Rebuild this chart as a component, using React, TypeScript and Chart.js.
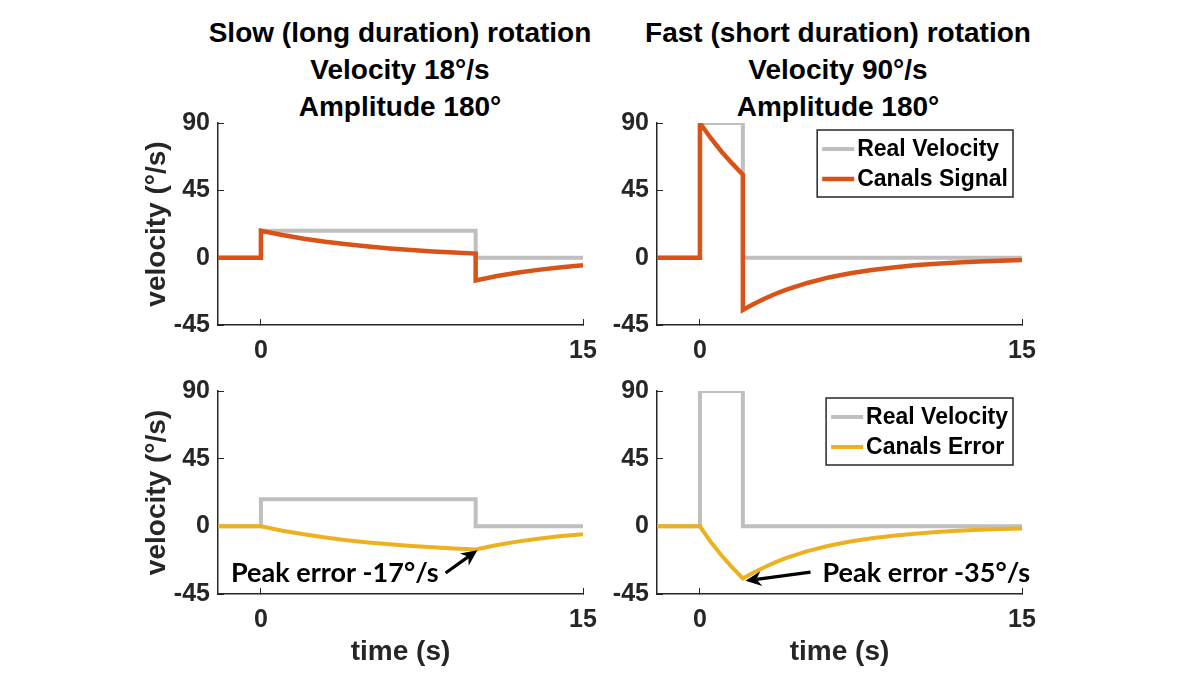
import React, { useEffect, useRef } from 'react';
import { Chart, registerables } from 'chart.js';

Chart.register(...registerables);

// ---------- text ----------
const titleSlow = ['Slow (long duration) rotation', 'Velocity 18°/s', 'Amplitude 180°'];
const titleFast = ['Fast (short duration) rotation', 'Velocity 90°/s', 'Amplitude 180°'];
const yAxisLabel = 'velocity (°/s)';
const xAxisLabel = 'time (s)';
const labelReal = 'Real Velocity';
const labelSignal = 'Canals Signal';
const labelError = 'Canals Error';
const noteSlow = 'Peak error -17°/s';
const noteFast = 'Peak error -35°/s';

// ---------- axes ----------
const xMin = -2;
const xMax = 15;
const xTickValues = [0, 15];
const yMin = -45;
const yMax = 90;
const yStep = 45;

// ---------- data (time in s, velocity in °/s) ----------
const realSlowT = [-2, 0, 0, 10, 10, 15];
const realSlowV = [0, 0, 18, 18, 0, 0];

const realFastT = [-2, 0, 0, 2, 2, 15];
const realFastV = [0, 0, 90, 90, 0, 0];

const slowSigT = [-2, 0, 0, 1, 2, 3, 4, 5, 6, 7, 8, 9, 10, 10, 11, 12, 13, 14, 15];
const slowSigV = [0, 0, 18, 15.1, 12.7, 10.6, 8.9, 7.4, 6.2, 5.1, 4.2, 3.4, 2.7, -15.3, -12.3, -9.9, -8.0, -6.4, -5.0];

const slowErrT = [-2, 0, 1, 2, 3, 4, 5, 6, 7, 8, 9, 10, 11, 12, 13, 14, 15];
const slowErrV = [0, 0, -2.9, -5.3, -7.4, -9.2, -10.7, -11.9, -13.0, -13.9, -14.7, -15.4, -12.4, -10.0, -8.1, -6.5, -5.2];

const fastSigT = [-2, 0, 0, 0.5, 1, 1.5, 2, 2, 2.5, 3, 3.5, 4, 5, 6, 7, 8, 9, 10, 11, 12, 13, 14, 15];
const fastSigV = [0, 0, 90, 80, 71, 63, 55.5, -35, -31, -27.5, -24.3, -21.5, -16.9, -13.2, -10.4, -8.2, -6.5, -5.1, -4.0, -3.2, -2.5, -2.0, -1.6];

const fastErrT = [-2, 0, 0.5, 1, 1.5, 2, 2.5, 3, 3.5, 4, 5, 6, 7, 8, 9, 10, 11, 12, 13, 14, 15];
const fastErrV = [0, 0, -10.3, -19.2, -27.3, -34.7, -30.7, -27.2, -24.0, -21.2, -16.5, -12.9, -10.1, -7.9, -6.2, -4.9, -3.8, -3.0, -2.3, -1.8, -1.4];

// ---------- style ----------
const FONT = "'Liberation Sans', Arial, Helvetica, sans-serif";
const NOTE_FONT = "Lato, 'Open Sans', sans-serif";
const INK = '#262626';
const GRAY = '#BFBFBF';
const ORANGE = '#D95319';
const YELLOW = '#EDB120';

const pts = (t: number[], v: number[]) => t.map((x, i) => ({ x, y: v[i] }));

// legend with a box, drawn from the datasets
const boxLegendPlugin = {
  id: 'boxLegend',
  afterDraw(chart: any, _args: any, opts: any) {
    if (!opts || !opts.display) return;
    const { ctx, chartArea } = chart;
    const items = chart.data.datasets.map((ds: any) => ({
      label: ds.label,
      color: ds.borderColor,
      width: ds.borderWidth,
    }));
    ctx.save();
    ctx.font = `bold 23px ${FONT}`;
    const textW = Math.max(...items.map((it: any) => ctx.measureText(it.label).width));
    const padL = 5, lineLen = 32, gap = 3, padR = 5, padT = 4, rowH = 30;
    const w = padL + lineLen + gap + textW + padR;
    const h = padT * 2 + rowH * items.length - 1;
    const x0 = chartArea.right - opts.right - w;
    const y0 = chartArea.top + opts.top;
    ctx.fillStyle = '#ffffff';
    ctx.fillRect(x0, y0, w, h);
    ctx.strokeStyle = INK;
    ctx.lineWidth = 1.5;
    ctx.strokeRect(x0, y0, w, h);
    items.forEach((it: any, i: number) => {
      const cy = y0 + padT + rowH * i + rowH / 2;
      ctx.strokeStyle = it.color;
      ctx.lineWidth = it.width;
      ctx.beginPath();
      ctx.moveTo(x0 + padL, cy);
      ctx.lineTo(x0 + padL + lineLen, cy);
      ctx.stroke();
      ctx.fillStyle = '#000';
      ctx.textAlign = 'left';
      ctx.textBaseline = 'middle';
      ctx.fillText(it.label, x0 + padL + lineLen + gap, cy + 1);
    });
    ctx.restore();
  },
};

// text + arrow annotation placed in data units
const peakNotePlugin = {
  id: 'peakNote',
  afterDatasetsDraw(chart: any, _args: any, opts: any) {
    if (!opts || !opts.text) return;
    const { ctx } = chart;
    const xs = chart.scales.x;
    const ys = chart.scales.y;
    const x1 = xs.getPixelForValue(opts.tail[0]);
    const y1 = ys.getPixelForValue(opts.tail[1]);
    const x2 = xs.getPixelForValue(opts.tip[0]);
    const y2 = ys.getPixelForValue(opts.tip[1]);
    const ang = Math.atan2(y2 - y1, x2 - x1);
    const cos = Math.cos(ang), sin = Math.sin(ang);
    const head = 16, half = 7.5, notch = 11;
    ctx.save();
    ctx.strokeStyle = '#000';
    ctx.fillStyle = '#000';
    ctx.lineWidth = 3.2;
    ctx.beginPath();
    ctx.moveTo(x1, y1);
    ctx.lineTo(x2 - notch * cos, y2 - notch * sin);
    ctx.stroke();
    const bx = x2 - head * cos, by = y2 - head * sin;
    ctx.beginPath();
    ctx.moveTo(x2, y2);
    ctx.lineTo(bx - half * sin, by + half * cos);
    ctx.lineTo(x2 - notch * cos, y2 - notch * sin);
    ctx.lineTo(bx + half * sin, by - half * cos);
    ctx.closePath();
    ctx.fill();
    ctx.font = `bold 27px ${NOTE_FONT}`;
    ctx.textAlign = opts.align;
    ctx.textBaseline = 'middle';
    ctx.fillText(opts.text, xs.getPixelForValue(opts.at[0]), ys.getPixelForValue(opts.at[1]));
    ctx.restore();
  },
};

type Panel = {
  left: number;
  top: number;
  xAxisH: number;
  showYTitle: boolean;
  showXTitle: boolean;
  datasets: any[];
  legend: boolean;
  note: any;
};

const Y_AXIS_W = 80;
const PAD_TOP = 30;
const PAD_RIGHT = 40;

function PanelChart({ p }: { p: Panel }) {
  const ref = useRef<HTMLCanvasElement | null>(null);
  const areaW = 365;
  const areaH = p.showXTitle ? 203 : 202;
  const width = Y_AXIS_W + areaW + PAD_RIGHT;
  const height = PAD_TOP + areaH + p.xAxisH;

  useEffect(() => {
    if (!ref.current) return;
    const tickFont = { family: FONT, size: 25, weight: 'bold' as const };
    const titleFont = { family: FONT, size: 28, weight: 'bold' as const };
    const chart = new Chart(ref.current, {
      type: 'line',
      data: { datasets: p.datasets },
      options: {
        responsive: false,
        animation: false,
        events: [],
        layout: { padding: { left: 0, right: PAD_RIGHT, top: PAD_TOP, bottom: 0 } },
        plugins: {
          legend: { display: false },
          tooltip: { enabled: false },
          // @ts-ignore
          boxLegend: { display: p.legend, right: 9, top: 7 },
          // @ts-ignore
          peakNote: p.note,
        },
        scales: {
          x: {
            type: 'linear',
            min: xMin,
            max: xMax,
            afterBuildTicks: (s: any) => {
              s.ticks = xTickValues.map((value) => ({ value }));
            },
            afterFit: (s: any) => {
              s.height = p.xAxisH;
            },
            grid: { drawOnChartArea: false, drawTicks: true, tickLength: -6, color: INK, lineWidth: 1 },
            border: { display: true, color: INK, width: 1.5 },
            ticks: { font: tickFont, color: INK, padding: 17, maxRotation: 0, autoSkip: false },
            title: {
              display: p.showXTitle,
              text: xAxisLabel,
              font: titleFont,
              color: INK,
              padding: { top: 0, bottom: 1 },
            },
          },
          y: {
            type: 'linear',
            min: yMin,
            max: yMax,
            afterFit: (s: any) => {
              s.width = Y_AXIS_W;
            },
            grid: { drawOnChartArea: false, drawTicks: true, tickLength: -6, color: INK, lineWidth: 1 },
            border: { display: true, color: INK, width: 1.5 },
            ticks: { stepSize: yStep, font: tickFont, color: INK, padding: 14 },
            title: {
              display: p.showYTitle,
              text: yAxisLabel,
              font: titleFont,
              color: INK,
              padding: { top: 2, bottom: 0 },
            },
          },
        },
      },
      plugins: [boxLegendPlugin, peakNotePlugin],
    } as any);
    return () => chart.destroy();
  }, []);

  return (
    <canvas
      ref={ref}
      width={width}
      height={height}
      style={{ position: 'absolute', left: p.left, top: p.top, width, height }}
    />
  );
}

const lineDs = (label: string, t: number[], v: number[], color: string, w: number, order: number) => ({
  label,
  data: pts(t, v),
  borderColor: color,
  backgroundColor: color,
  borderWidth: w,
  pointRadius: 0,
  tension: 0,
  fill: false,
  order,
  borderJoinStyle: 'miter',
  borderCapStyle: 'butt',
});

function Title({ lines, center }: { lines: string[]; center: number }) {
  return (
    <div
      style={{
        position: 'absolute',
        left: center - 300,
        top: 14,
        width: 600,
        textAlign: 'center',
        font: `bold 28px ${FONT}`,
        lineHeight: '37px',
        color: '#000',
      }}
    >
      {lines.map((l, i) => (
        <div key={i}>{l}</div>
      ))}
    </div>
  );
}

export default function App() {
  const panels: Panel[] = [
    {
      left: 138,
      top: 123 - PAD_TOP,
      xAxisH: 45,
      showYTitle: true,
      showXTitle: false,
      legend: false,
      note: null,
      datasets: [
        lineDs(labelReal, realSlowT, realSlowV, GRAY, 4, 1),
        lineDs(labelSignal, slowSigT, slowSigV, ORANGE, 4.5, 0),
      ],
    },
    {
      left: 577,
      top: 123 - PAD_TOP,
      xAxisH: 45,
      showYTitle: false,
      showXTitle: false,
      legend: true,
      note: null,
      datasets: [
        lineDs(labelReal, realFastT, realFastV, GRAY, 4, 1),
        lineDs(labelSignal, fastSigT, fastSigV, ORANGE, 4.5, 0),
      ],
    },
    {
      left: 138,
      top: 391 - PAD_TOP,
      xAxisH: 76,
      showYTitle: true,
      showXTitle: true,
      legend: false,
      note: { text: noteSlow, align: 'right', at: [8.27, -31], tail: [8.6, -31], tip: [10.08, -15.9] },
      datasets: [
        lineDs(labelReal, realSlowT, realSlowV, GRAY, 4, 1),
        lineDs(labelError, slowErrT, slowErrV, YELLOW, 4, 0),
      ],
    },
    {
      left: 577,
      top: 391 - PAD_TOP,
      xAxisH: 76,
      showYTitle: false,
      showXTitle: true,
      legend: true,
      note: { text: noteFast, align: 'left', at: [5.71, -31], tail: [5.15, -30.4], tip: [2.12, -36.2] },
      datasets: [
        lineDs(labelReal, realFastT, realFastV, GRAY, 4, 1),
        lineDs(labelError, fastErrT, fastErrV, YELLOW, 4, 0),
      ],
    },
  ];

  return (
    <div
      style={{
        position: 'absolute',
        left: 0,
        top: 0,
        width: 1200,
        height: 675,
        background: '#ffffff',
        overflow: 'hidden',
      }}
    >
      <Title lines={titleSlow} center={400} />
      <Title lines={titleFast} center={838} />
      {panels.map((p, i) => (
        <PanelChart key={i} p={p} />
      ))}
    </div>
  );
}
